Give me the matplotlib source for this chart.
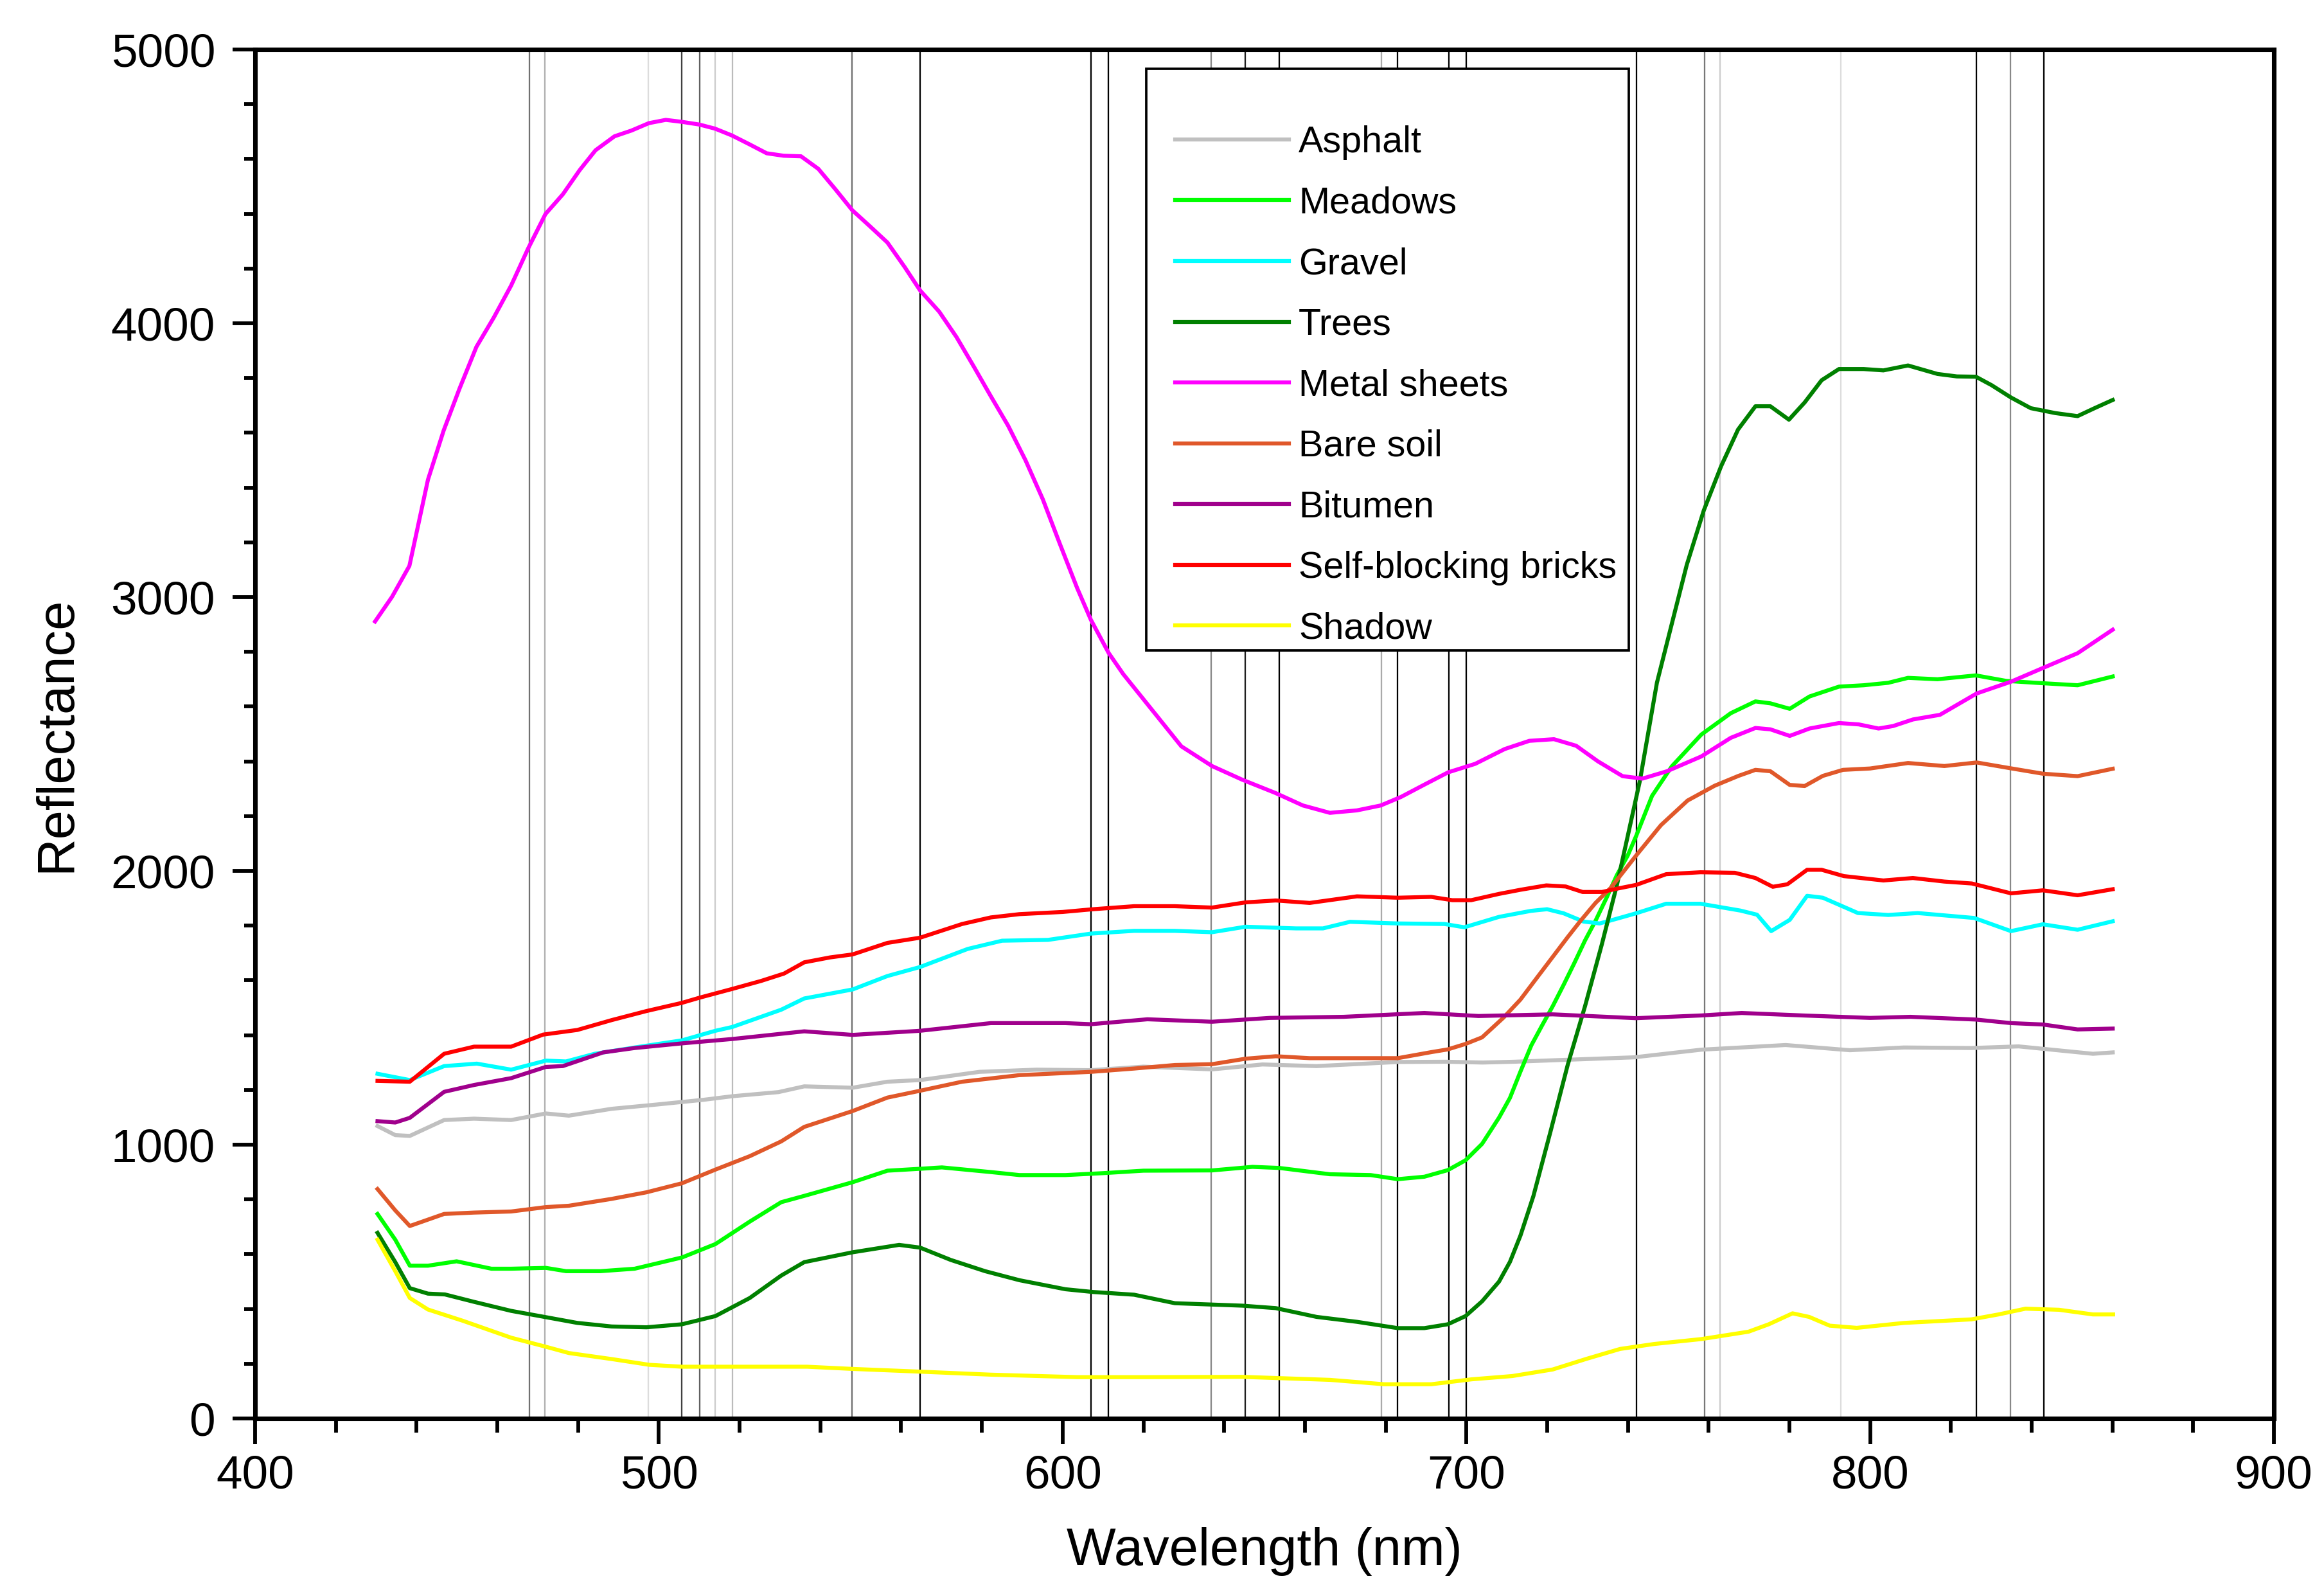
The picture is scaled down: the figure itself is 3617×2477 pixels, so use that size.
import matplotlib
matplotlib.use("Agg")
import matplotlib.pyplot as plt
from matplotlib.ticker import MultipleLocator
from matplotlib.patches import Rectangle

plt.rcParams['font.family'] = ['Liberation Sans', 'DejaVu Sans']

# ---------------- data ----------------
band_nm = [467.9, 471.7, 497.4, 505.7, 510.1, 514.0, 518.2, 547.9, 564.7,
           607.0, 611.4, 636.8, 645.2, 653.7, 678.9, 682.9, 695.7, 700.0,
           742.1, 759.0, 762.9, 792.8, 826.3, 834.8, 843.1]

labels = ["Asphalt", "Meadows", "Gravel", "Trees", "Metal sheets",
          "Bare soil", "Bitumen", "Self-blocking bricks", "Shadow"]

asphalt_nm = [430.3, 434.7, 438.3, 446.8, 454.2, 463.4, 472.0, 477.7, 488.3, 499.7,
              511.1, 518.2, 529.6, 536.0, 548.0, 556.6, 564.7, 579.4, 593.6, 607.0,
              620.0, 637.0, 649.5, 662.9, 683.0, 695.0, 704.0, 712.0, 724.7, 741.5,
              758.2, 779.1, 795.0, 808.4, 825.1, 836.8, 855.2, 860.1]
asphalt_val = [1068, 1035, 1032, 1090, 1095, 1090, 1114, 1106, 1131, 1147,
               1164, 1177, 1192, 1213, 1208, 1230, 1236, 1266, 1274, 1272,
               1285, 1275, 1293, 1287, 1302, 1303, 1300, 1303, 1310, 1319,
               1347, 1364, 1345, 1355, 1353, 1359, 1332, 1337]

meadows_nm = [430.3, 434.7, 438.3, 442.8, 449.9, 458.5, 463.4, 472.0, 477.0, 485.5,
              494.0, 505.7, 514.0, 522.5, 530.3, 536.0, 548.0, 556.6, 564.7, 570.1,
              582.2, 589.3, 600.7, 610.0, 620.0, 637.0, 647.0, 653.7, 666.2, 676.3,
              683.0, 689.6, 695.4, 699.8, 703.9, 708.1, 710.8, 713.4, 716.1, 718.7,
              721.4, 724.1, 726.7, 729.4, 732.0, 734.7, 737.3, 740.0, 742.1, 746.0,
              750.9, 758.2, 765.5, 771.6, 775.3, 780.1, 785.0, 792.3, 798.4, 804.5,
              809.4, 816.7, 826.2, 833.7, 841.0, 851.4, 860.1]
meadows_val = [747, 653, 558, 558, 574, 547, 547, 550, 538, 538,
               547, 588, 637, 719, 790, 813, 863, 905, 912, 917,
               900, 889, 889, 896, 905, 906, 919, 915, 892, 889,
               874, 883, 907, 943, 1003, 1099, 1171, 1267, 1363, 1434,
               1506, 1584, 1662, 1746, 1818, 1901, 1985, 2057, 2129, 2274,
               2382, 2498, 2576, 2619, 2612, 2592, 2637, 2673, 2678, 2687,
               2705, 2700, 2714, 2694, 2687, 2678, 2710]

gravel_nm = [430.3, 438.3, 446.8, 454.9, 463.4, 472.0, 477.0, 484.1, 494.0, 505.7,
             514.0, 518.2, 530.3, 536.0, 548.0, 556.6, 564.7, 576.5, 585.0, 596.4,
             607.0, 617.7, 627.8, 637.0, 645.3, 657.8, 664.5, 671.2, 683.0, 694.6,
             699.5, 708.1, 716.0, 720.0, 724.1, 729.0, 733.0, 736.0, 742.0, 749.5,
             758.0, 767.9, 772.0, 775.5, 780.1, 784.4, 788.3, 797.0, 804.5, 811.8,
             825.8, 834.9, 842.8, 851.4, 860.1]
gravel_val = [1259, 1236, 1287, 1296, 1274, 1307, 1304, 1332, 1355, 1381,
              1416, 1430, 1493, 1534, 1567, 1616, 1649, 1715, 1745, 1748,
              1771, 1781, 1781, 1776, 1796, 1790, 1790, 1814, 1808, 1806,
              1794, 1832, 1854, 1860, 1845, 1815, 1808, 1820, 1845, 1880,
              1880, 1855, 1840, 1780, 1821, 1909, 1902, 1846, 1839, 1846,
              1828, 1780, 1805, 1785, 1816]

trees_nm = [430.3, 434.7, 438.3, 442.8, 447.0, 454.2, 463.4, 472.0, 479.8, 488.3,
            496.9, 505.7, 514.0, 522.5, 530.3, 536.0, 548.0, 559.5, 564.7, 572.3,
            580.8, 589.3, 600.7, 607.5, 617.7, 627.8, 644.5, 652.8, 662.9, 672.9,
            683.0, 689.6, 695.4, 699.8, 703.9, 708.1, 710.8, 713.4, 716.6, 720.9,
            725.1, 729.4, 733.6, 737.3, 740.0, 743.0, 747.2, 750.9, 754.6, 758.8,
            763.1, 767.3, 771.6, 775.3, 779.9, 783.8, 788.0, 792.3, 798.4, 803.3,
            809.4, 816.7, 821.5, 826.2, 830.1, 834.9, 839.8, 845.9, 851.4, 855.6,
            860.1]
trees_val = [678, 571, 476, 456, 453, 426, 393, 370, 349, 336,
             333, 344, 374, 440, 522, 571, 607, 634, 624, 579,
             538, 505, 472, 462, 452, 421, 412, 403, 371, 353,
             330, 330, 344, 374, 428, 500, 572, 668, 812, 1051,
             1291, 1506, 1734, 1949, 2129, 2330, 2687, 2903, 3118, 3316,
             3478, 3612, 3697, 3697, 3648, 3711, 3792, 3833, 3833, 3828,
             3846, 3815, 3806, 3805, 3774, 3729, 3690, 3672, 3661, 3690,
             3720]

metal_nm = [429.7, 433.9, 438.2, 442.8, 446.7, 450.6, 454.8, 459.1, 463.4, 467.6,
            471.9, 476.2, 480.4, 484.3, 489.0, 493.2, 497.5, 501.7, 505.6, 510.0,
            513.9, 518.1, 522.4, 526.7, 530.9, 535.2, 539.5, 543.8, 547.9, 552.3,
            556.6, 560.9, 564.7, 569.4, 573.7, 578.0, 582.2, 586.5, 590.8, 595.1,
            599.3, 603.6, 607.0, 611.4, 615.0, 620.4, 629.4, 637.0, 644.5, 652.8,
            659.5, 666.2, 672.9, 678.8, 683.8, 689.6, 695.5, 702.2, 709.5, 715.6,
            721.7, 727.2, 732.6, 738.7, 743.6, 749.7, 758.2, 765.5, 771.6, 775.3,
            780.1, 785.0, 792.3, 797.2, 802.1, 805.7, 810.6, 817.3, 821.5, 826.4,
            834.9, 842.8, 851.4, 860.1]
metal_val = [2911, 3001, 3114, 3429, 3609, 3761, 3914, 4021, 4138, 4273,
             4399, 4471, 4560, 4632, 4683, 4704, 4731, 4743, 4736, 4726,
             4711, 4686, 4654, 4621, 4612, 4610, 4564, 4488, 4413, 4354,
             4295, 4205, 4120, 4043, 3950, 3842, 3734, 3626, 3500, 3357,
             3195, 3033, 2917, 2796, 2719, 2620, 2455, 2383, 2333, 2284,
             2239, 2212, 2221, 2239, 2270, 2315, 2360, 2391, 2445, 2475,
             2481, 2457, 2400, 2346, 2337, 2364, 2418, 2486, 2522, 2517,
             2493, 2520, 2540, 2535, 2520, 2529, 2553, 2570, 2606, 2648,
             2691, 2741, 2795, 2881]

soil_nm = [430.3, 434.7, 438.3, 446.8, 454.2, 463.4, 472.0, 477.7, 488.3, 496.9,
           505.7, 514.0, 522.5, 530.3, 536.0, 548.0, 556.6, 564.7, 575.1, 589.3,
           607.0, 617.7, 627.8, 637.0, 645.3, 652.8, 661.2, 683.0, 691.3, 695.4,
           699.8, 703.9, 709.2, 713.4, 717.7, 721.4, 725.1, 728.3, 732.0, 735.7,
           738.9, 742.1, 748.2, 754.8, 761.5, 767.4, 771.6, 775.3, 780.1, 783.8,
           788.3, 793.3, 800.0, 809.4, 818.4, 826.4, 835.1, 842.8, 851.4, 860.1]
soil_val = [838, 760, 703, 747, 752, 756, 772, 777, 802, 826,
            859, 909, 958, 1012, 1065, 1123, 1172, 1197, 1230, 1254,
            1266, 1278, 1291, 1294, 1314, 1323, 1316, 1316, 1338, 1348,
            1368, 1392, 1464, 1530, 1614, 1686, 1758, 1818, 1883, 1937,
            1997, 2057, 2167, 2257, 2311, 2347, 2369, 2364, 2314, 2310,
            2347, 2369, 2374, 2394, 2383, 2396, 2374, 2355, 2346, 2373]

bitumen_nm = [430.3, 434.7, 438.3, 446.8, 454.2, 463.4, 472.0, 476.2, 486.2, 494.0,
              505.7, 518.2, 536.0, 548.0, 564.7, 582.2, 600.7, 607.0, 621.0, 637.0,
              651.3, 669.6, 689.6, 703.0, 721.4, 742.0, 758.2, 768.2, 783.3, 800.0,
              810.0, 826.2, 834.9, 842.8, 851.4, 860.1]
bitumen_val = [1086, 1081, 1098, 1193, 1218, 1243, 1284, 1287, 1337, 1353,
               1370, 1386, 1414, 1401, 1416, 1444, 1444, 1440, 1458, 1449,
               1463, 1467, 1481, 1470, 1476, 1462, 1472, 1481, 1472, 1463,
               1467, 1457, 1444, 1439, 1421, 1424]

bricks_nm = [430.3, 438.3, 446.8, 454.2, 463.4, 471.3, 479.8, 488.3, 496.9, 505.7,
             510.1, 518.2, 525.3, 531.0, 536.0, 542.4, 548.0, 556.6, 564.7, 575.1,
             582.2, 589.3, 600.0, 607.5, 617.7, 627.8, 637.0, 645.3, 652.8, 661.2,
             672.9, 683.0, 691.3, 696.5, 701.2, 708.1, 713.4, 719.8, 724.6, 728.8,
             733.6, 737.3, 742.1, 749.5, 758.0, 766.5, 771.6, 775.9, 779.5, 784.4,
             788.0, 793.5, 803.3, 810.6, 818.4, 825.2, 834.9, 842.8, 851.4, 860.1]
bricks_val = [1233, 1230, 1332, 1358, 1358, 1402, 1419, 1455, 1488, 1518,
              1537, 1569, 1598, 1625, 1666, 1684, 1695, 1737, 1756, 1806,
              1830, 1842, 1850, 1860, 1871, 1871, 1866, 1885, 1892, 1883,
              1907, 1902, 1905, 1893, 1893, 1916, 1931, 1947, 1943, 1923,
              1923, 1935, 1949, 1988, 1995, 1993, 1974, 1942, 1951, 2004,
              2004, 1981, 1965, 1974, 1961, 1954, 1918, 1929, 1911, 1933]

shadow_nm = [430.3, 434.7, 438.3, 442.8, 451.4, 463.4, 472.0, 477.7, 488.3, 497.6,
             505.7, 525.3, 536.7, 548.0, 564.7, 582.2, 603.6, 620.3, 644.5, 666.2,
             679.6, 691.3, 701.3, 711.4, 721.4, 729.8, 738.1, 746.5, 758.2, 769.9,
             774.9, 780.8, 784.9, 790.0, 796.7, 808.4, 825.1, 831.8, 838.5, 846.8,
             855.2, 860.2]
shadow_val = [653, 538, 440, 398, 357, 295, 262, 239, 217, 196,
              189, 189, 189, 181, 171, 160, 151, 151, 152, 141,
              125, 125, 143, 155, 179, 218, 254, 272, 290, 317,
              344, 384, 371, 339, 331, 349, 362, 380, 401, 397,
              380, 380]

# ---------------- styles ----------------
band_shades = ['#707070', '#b0b0b0', '#dcdcdc', '#404040', '#606060', '#cccccc',
               '#bbbbbb', '#707070', '#000000', '#000000', '#000000', '#888888',
               '#202020', '#000000', '#aaaaaa', '#000000', '#000000', '#000000',
               '#000000', '#777777', '#cccccc', '#dddddd', '#000000', '#888888',
               '#000000']
colors = ['#c0c0c0', '#00ff00', '#00ffff', '#008000', '#ff00ff',
          '#e0582a', '#a0008c', '#ff0000', '#ffff00']

series = [(asphalt_nm, asphalt_val), (meadows_nm, meadows_val),
          (gravel_nm, gravel_val), (trees_nm, trees_val),
          (metal_nm, metal_val), (soil_nm, soil_val),
          (bitumen_nm, bitumen_val), (bricks_nm, bricks_val),
          (shadow_nm, shadow_val)]

fig = plt.figure(figsize=(3617 / 300, 2477 / 300), dpi=300)
ax = fig.add_axes([0.1098, 0.1090, 0.8686, 0.8599])

for x, c in zip(band_nm, band_shades):
    ax.axvline(x, color=c, lw=0.55, zorder=1)

handles = []
for (xs, ys), c, lab in zip(series, colors, labels):
    h, = ax.plot(xs, ys, color=c, lw=1.5, label=lab, zorder=2)
    handles.append(h)

ax.set_xlim(400, 900)
ax.set_ylim(0, 5000)
ax.xaxis.set_major_locator(MultipleLocator(100))
ax.xaxis.set_minor_locator(MultipleLocator(20))
ax.yaxis.set_major_locator(MultipleLocator(1000))
ax.yaxis.set_minor_locator(MultipleLocator(200))

ax.tick_params(axis='x', which='major', direction='out', length=9.5, width=1.4,
               labelsize=17.5, pad=4, top=False)
ax.tick_params(axis='x', which='minor', direction='out', length=5.3, width=1.4, top=False)
ax.tick_params(axis='y', which='major', direction='out', length=8.4, width=1.4,
               labelsize=17.5, pad=6.5, right=False)
ax.tick_params(axis='y', which='minor', direction='out', length=4.0, width=1.4, right=False)

for s in ax.spines.values():
    s.set_linewidth(1.7)

ax.set_xlabel("Wavelength (nm)", fontsize=19.5, labelpad=11)
ax.set_ylabel("Reflectance", fontsize=19.5, labelpad=11)

# legend frame (opaque, covers the band lines)
ax.add_patch(Rectangle((0.4414, 0.561), 0.2391, 0.4249, transform=ax.transAxes,
                       facecolor='white', edgecolor='black', lw=0.9, zorder=4))
leg = ax.legend(handles, labels, loc='upper left', bbox_to_anchor=(0.4558, 0.9446),
                frameon=False, fontsize=13.8, handlelength=3.08, handletextpad=0.26,
                labelspacing=0.705, borderpad=0, borderaxespad=0)
leg.set_zorder(5)

fig.savefig("out.png", dpi=300)
